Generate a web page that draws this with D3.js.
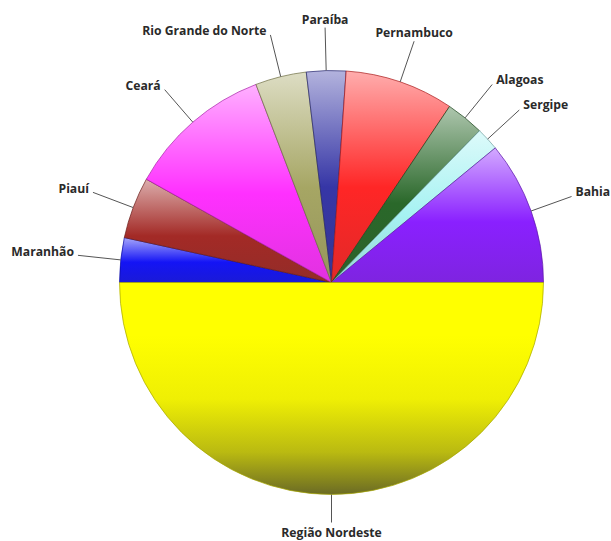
<!DOCTYPE html>
<html>
<head>
<meta charset="utf-8">
<script src="https://cdn.jsdelivr.net/npm/d3@7/dist/d3.min.js"></script>
<style>
  html, body { margin: 0; padding: 0; background: #fff; }
  svg { display: block; }
  .lbl { font-family: "Open Sans", "DejaVu Sans", sans-serif; font-weight: 700; font-size: 12.2px; fill: #2a2a2a; }
</style>
</head>
<body>
<div id="chart"></div>
<script>
// ---- data ----
const states = ["Maranhão", "Piauí", "Ceará", "Rio Grande do Norte", "Paraíba",
                "Pernambuco", "Alagoas", "Sergipe", "Bahia", "Região Nordeste"];
const shares = [3.4, 4.7, 11.1, 3.9, 3.0, 8.3, 2.9, 1.75, 10.95, 50];
const baseColors = ["#1414f5", "#a32a26", "#ff30ff", "#a6a664", "#3636a6",
                    "#ff2626", "#2a682a", "#a6f2f2", "#8a20ff", "#ffff00"];

// ---- layout ----
const W = 611, H = 541;
const cx = 331.5, cy = 282.5, r = 212;

const svg = d3.select("#chart").append("svg").attr("width", W).attr("height", H);
const defs = svg.append("defs");

const pie = d3.pie().sort(null).value(d => d.v)
  .startAngle(-Math.PI / 2).endAngle(3 * Math.PI / 2);
const data = states.map((s, i) => ({ name: s, v: shares[i], color: baseColors[i], i }));
const arcs = pie(data);

const arc = d3.arc().innerRadius(0).outerRadius(r);

// gradients
arcs.forEach(a => {
  const g = defs.append("linearGradient")
    .attr("id", "g" + a.data.i)
    .attr("x1", 0).attr("y1", 0).attr("x2", 0).attr("y2", 1);
  const mixW = (t) => d3.interpolateRgb(a.data.color, "#ffffff")(t);
  const mixD = (t) => d3.interpolateRgb(a.data.color, "#3a3a30")(t);
  if (a.data.i === states.length - 1) {
    g.append("stop").attr("offset", "0%").attr("stop-color", a.data.color);
    g.append("stop").attr("offset", "25%").attr("stop-color", a.data.color);
    g.append("stop").attr("offset", "55%").attr("stop-color", mixD(0.08));
    g.append("stop").attr("offset", "80%").attr("stop-color", mixD(0.35));
    g.append("stop").attr("offset", "100%").attr("stop-color", mixD(0.75));
  } else {
    g.append("stop").attr("offset", "0%").attr("stop-color", mixW(0.62));
    g.append("stop").attr("offset", "55%").attr("stop-color", a.data.color);
    g.append("stop").attr("offset", "100%").attr("stop-color", mixD(0.15));
  }
});

const gPie = svg.append("g").attr("transform", `translate(${cx},${cy})`);

gPie.selectAll("path.slice")
  .data(arcs)
  .join("path")
  .attr("class", "slice")
  .attr("d", arc)
  .attr("fill", d => `url(#g${d.data.i})`)
  .attr("stroke", d => d3.color(d.data.color).darker(1.2))
  .attr("stroke-width", 0.7);

// ---- labels with leader lines ----
const gLab = svg.append("g").attr("transform", `translate(${cx},${cy})`);
const pt = (ang, rad) => [Math.sin(ang) * rad, -Math.cos(ang) * rad];

arcs.forEach(a => {
  const mid = (a.startAngle + a.endAngle) / 2;
  let deg = mid * 180 / Math.PI;
  if (deg > 180) deg -= 360;
  const bottom = Math.abs(deg) > 150;
  const p0 = pt(mid, r);
  const p1 = pt(mid, bottom ? r + 28 : r + 43);
  gLab.append("line")
    .attr("x1", p0[0]).attr("y1", p0[1])
    .attr("x2", p1[0]).attr("y2", p1[1])
    .attr("stroke", "#555").attr("stroke-width", 1);
  const t = gLab.append("text").attr("class", "lbl").text(a.data.name);
  if (bottom) {
    t.attr("x", p1[0]).attr("y", p1[1] + 14).attr("text-anchor", "middle");
  } else if (deg < -8) {
    t.attr("x", p1[0] - 4).attr("y", p1[1] - 4).attr("dy", "0.35em").attr("text-anchor", "end");
  } else if (deg < 25) {
    t.attr("x", p1[0]).attr("y", p1[1] - 4).attr("text-anchor", "middle");
  } else {
    t.attr("x", p1[0] + 4).attr("y", p1[1] - 5).attr("dy", "0.35em").attr("text-anchor", "start");
  }
});
</script>
</body>
</html>
